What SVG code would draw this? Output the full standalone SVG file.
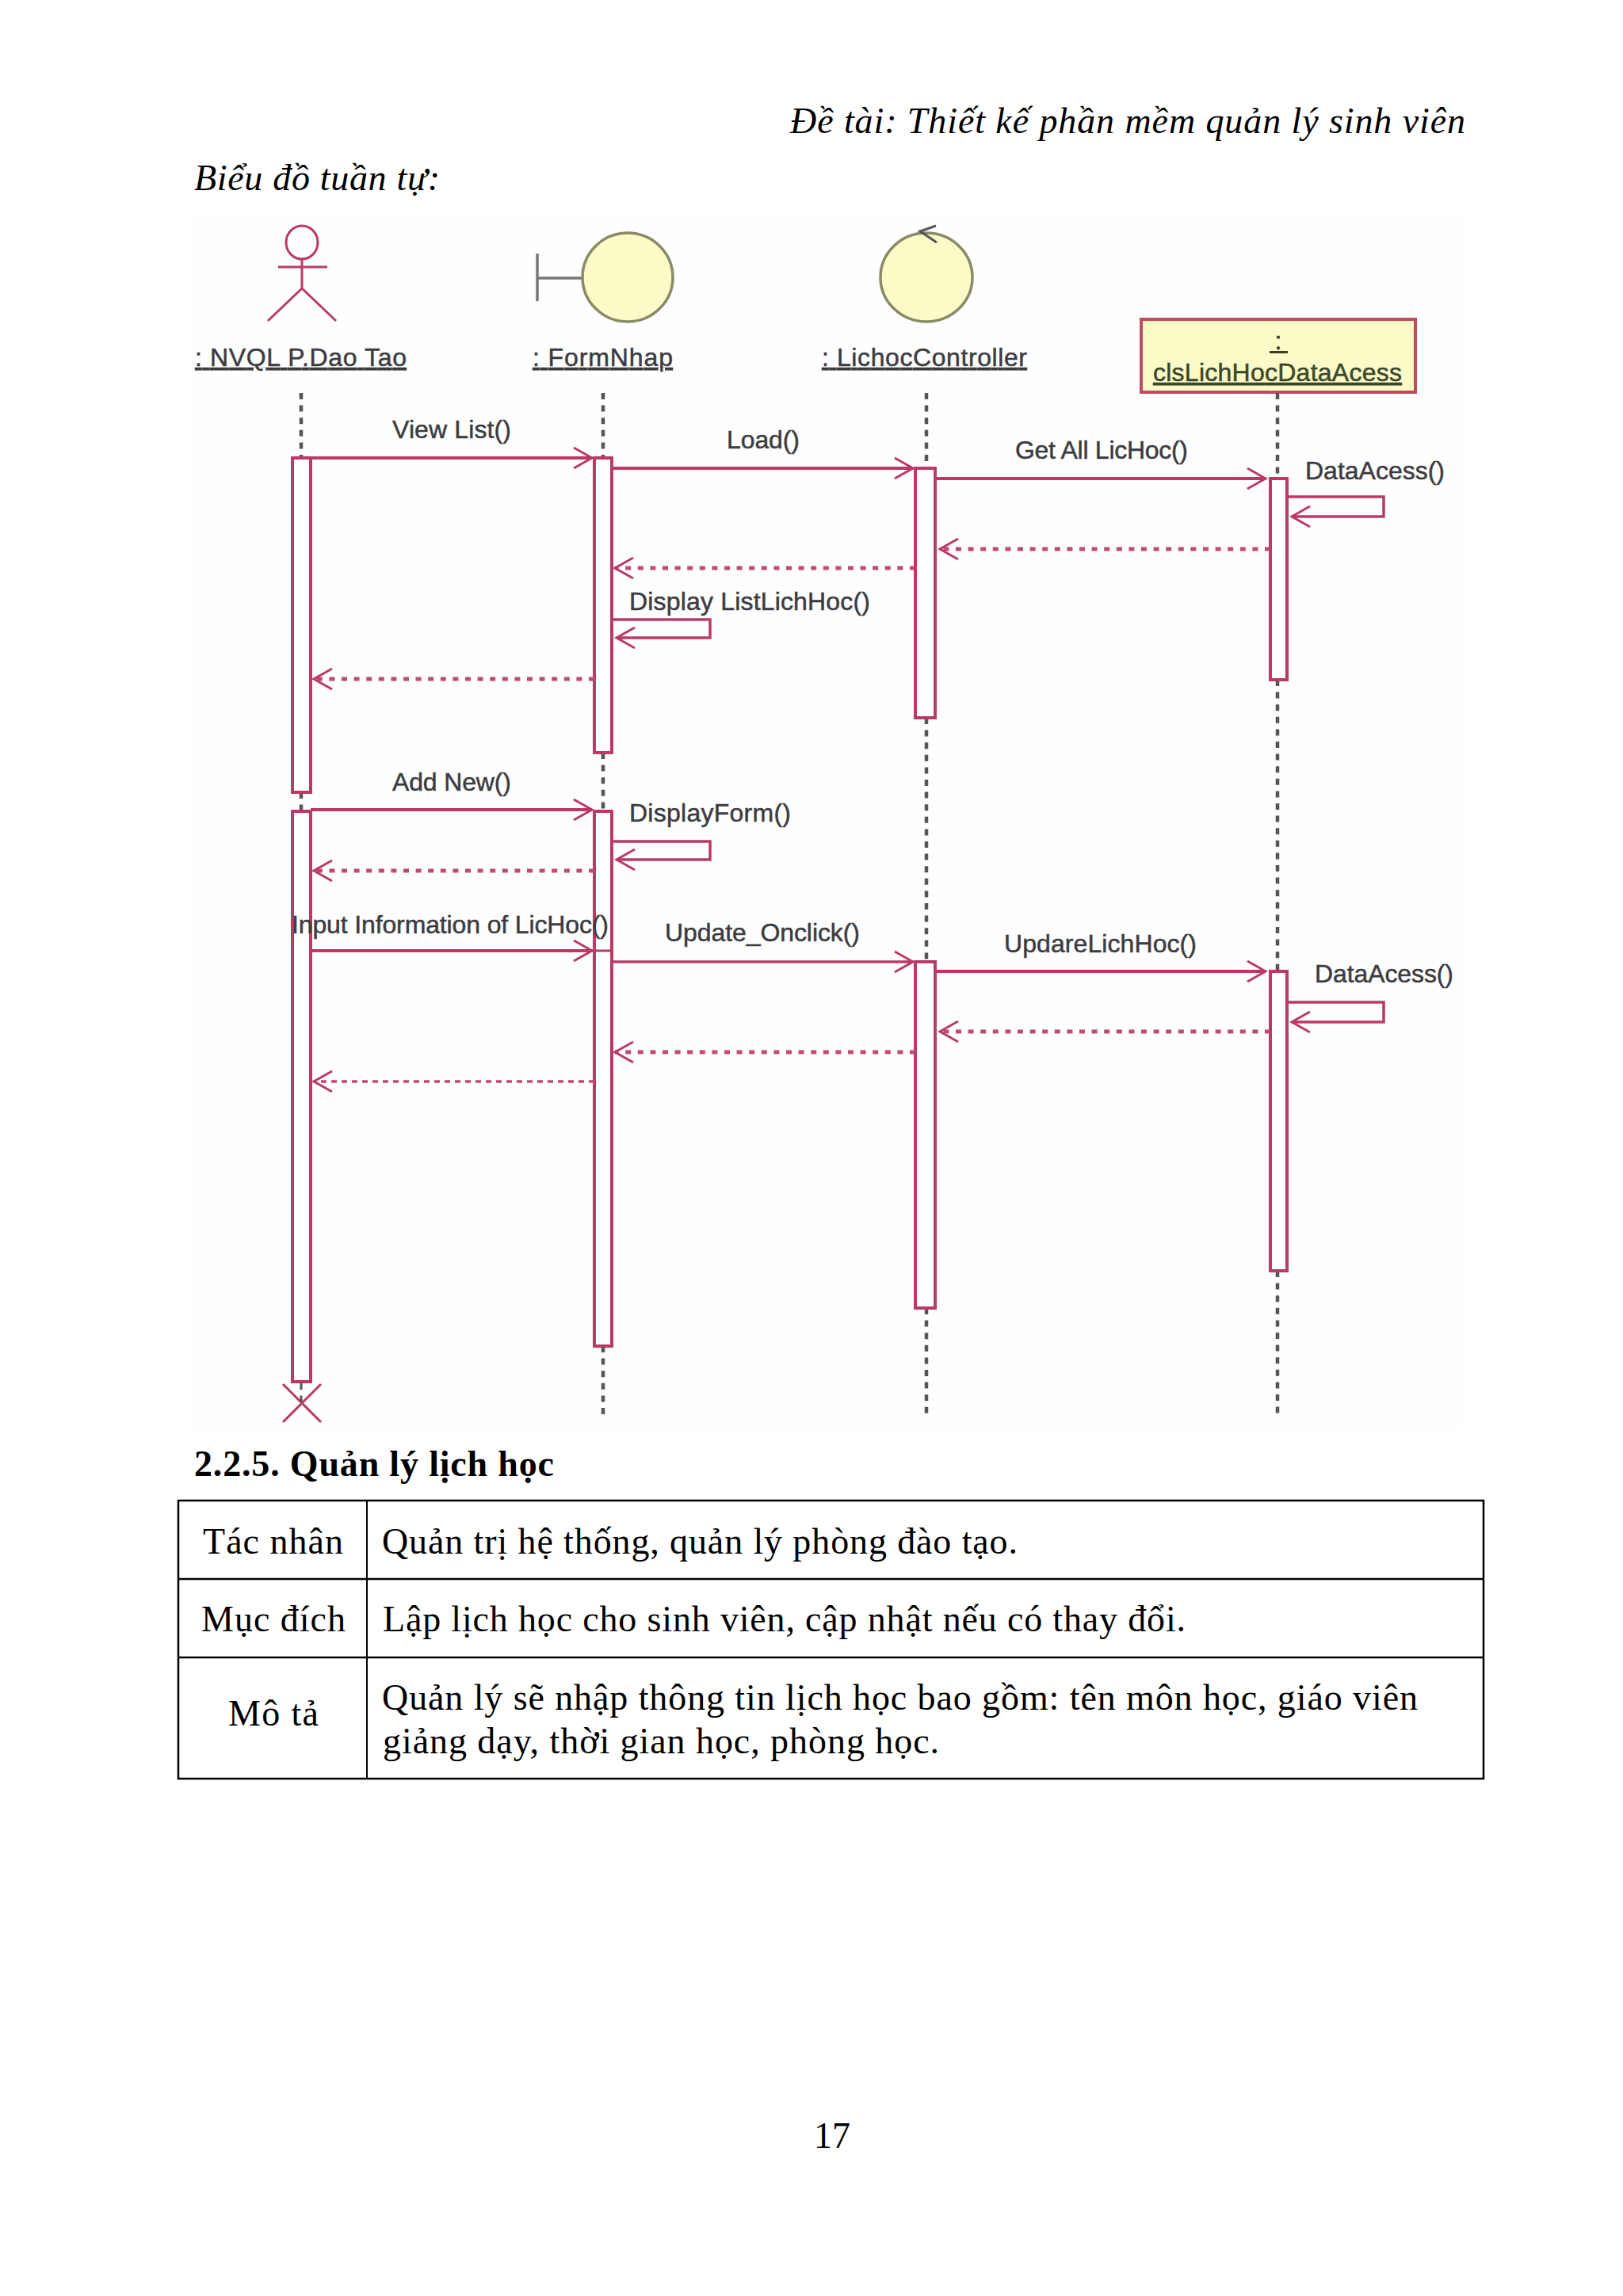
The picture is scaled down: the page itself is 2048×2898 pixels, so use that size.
<svg xmlns="http://www.w3.org/2000/svg" width="2048" height="2898" viewBox="0 0 2048 2898">
<style>
.pg{fill:#000;font-family:"Liberation Serif","Times New Roman",serif;font-size:46px}
.it{font-style:italic}
.bd{font-weight:bold}
.uml{fill:#3c3c40;stroke:#3c3c40;stroke-width:.5;font-family:"Liberation Sans",Arial,sans-serif;font-size:32px}
.u{text-decoration:underline}
.pink{fill:none;stroke:#b93a64;stroke-width:3}
.act{fill:#fff;stroke:#b93a64;stroke-width:4}
.life{fill:none;stroke:#555;stroke-width:4.500;stroke-dasharray:8 7.6}
.msg{fill:none;stroke:#b93a64;stroke-width:4;marker-end:url(#open)}
.ret{fill:none;stroke:#c04a72;stroke-width:5;stroke-dasharray:7 8.6;marker-end:url(#open)}
.cell{fill:none;stroke:#000;stroke-width:2.5}
.ball{fill:#fbfbc8;stroke:#8a8a66;stroke-width:3.5}
</style>
<defs>
<marker id="open" markerUnits="userSpaceOnUse" viewBox="-26 -15 29 30" refX="0" refY="0" markerWidth="29" markerHeight="30" orient="auto">
<path d="M-23,-13 L0,0 L-23,13" fill="none" stroke="#b93a64" stroke-width="3"/>
</marker>
</defs>
<rect width="2048" height="2898" fill="#fff"/>
<rect x="243" y="270" width="1600" height="1535" fill="#fefefe"/>
<text class="pg it" x="997" y="168" textLength="852">Đề tài: Thiết kế phần mềm quản lý sinh viên</text>
<text class="pg it" x="245" y="240" textLength="310">Biểu đồ tuần tự:</text>

<g id="actor-nvql">
<ellipse class="pink" cx="381" cy="306" rx="20" ry="21"/>
<path class="pink" d="M351,337H413M381,327V364M338,405L381,364L424,405"/>
<text class="uml u" x="246" y="462" textLength="267">: NVQL P.Dao Tao</text>
<path class="life" d="M380,496V578M380,1000V1022"/>
<rect class="act" x="369" y="578" width="23" height="422"/>
<rect class="act" x="369" y="1024" width="23" height="720"/>
<path class="pink" d="M357,1747L405,1795M405,1747L357,1795"/>
<path class="life" d="M380,1746V1770" style="stroke-width:3"/>
</g>

<g id="boundary-formnhap">
<path d="M678,320V380M678,351H735" fill="none" stroke="#77777a" stroke-width="3.5"/>
<ellipse class="ball" cx="792" cy="350" rx="57" ry="56"/>
<text class="uml u" x="672" y="462" textLength="177">: FormNhap</text>
<path class="life" d="M761,496V578M761,950V1022M761,1699V1791"/>
<rect class="act" x="750" y="578" width="22" height="372"/>
<rect class="act" x="750" y="1024" width="22" height="675"/>
</g>

<g id="control-lichoccontroller">
<ellipse class="ball" cx="1169" cy="350" rx="58" ry="56"/>
<path d="M1181,285L1161,292L1182,306" fill="none" stroke="#555" stroke-width="3"/>
<text class="uml u" x="1037" y="462" textLength="259">: LichocController</text>
<path class="life" d="M1169,496V591M1169,906V1214M1169,1651V1790"/>
<rect class="act" x="1155" y="591" width="25" height="315"/>
<rect class="act" x="1155" y="1214" width="25" height="437"/>
</g>

<g id="object-clslichhocdataacess">
<rect x="1440" y="403" width="346" height="92" fill="#fbfbc8" stroke="#c04a5f" stroke-width="4"/>
<text class="uml" x="1613" y="441" text-anchor="middle" style="fill:#3c3c20">:</text>
<line x1="1602" y1="444.500" x2="1625" y2="444.500" stroke="#3c3c20" stroke-width="3"/>
<text class="uml u" x="1455" y="481" textLength="314" style="fill:#3c4a20">clsLichHocDataAcess</text>
<path class="life" d="M1612,496V604M1612,858V1226M1612,1604V1790"/>
<rect class="act" x="1603" y="604" width="21" height="254"/>
<rect class="act" x="1603" y="1226" width="21" height="378"/>
</g>

<g id="connectors">
<line class="msg" x1="392" y1="578" x2="747" y2="578"/>
<line class="msg" x1="772" y1="591" x2="1152" y2="591"/>
<line class="msg" x1="1180" y1="604" x2="1597" y2="604"/>
<path class="msg" style="stroke-width:3.5" d="M1624,627H1746V652H1630"/>
<line class="ret" x1="1603" y1="693" x2="1186" y2="693"/>
<line class="ret" x1="1155" y1="717" x2="776" y2="717"/>
<path class="msg" style="stroke-width:3.5" d="M772,782H896V805H778"/>
<line class="ret" x1="750" y1="857" x2="396" y2="857"/>
<line class="msg" x1="392" y1="1022" x2="747" y2="1022"/>
<path class="msg" style="stroke-width:3.5" d="M772,1062H896V1085H778"/>
<line class="ret" x1="750" y1="1099" x2="396" y2="1099"/>
<line class="msg" x1="392" y1="1200" x2="747" y2="1200"/>
<line x1="747" y1="1200" x2="772" y2="1200" stroke="#b93a64" stroke-width="3"/>
<line class="msg" style="stroke-width:3.5" x1="772" y1="1214" x2="1152" y2="1214"/>
<line class="msg" x1="1180" y1="1226" x2="1597" y2="1226"/>
<path class="msg" style="stroke-width:3.5" d="M1624,1265H1746V1290H1630"/>
<line class="ret" x1="1603" y1="1302" x2="1186" y2="1302"/>
<line class="ret" x1="1155" y1="1328" x2="776" y2="1328"/>
<line class="ret" style="stroke-width:3.5;stroke-dasharray:7 6" x1="750" y1="1365" x2="396" y2="1365"/>
<g>
<text class="uml" x="495" y="553" textLength="150">View List()</text>
<text class="uml" x="917" y="566" textLength="92">Load()</text>
<text class="uml" x="1281" y="579" textLength="218">Get All LicHoc()</text>
<text class="uml" x="1647" y="605" textLength="176">DataAcess()</text>
<text class="uml" x="794" y="770" textLength="304">Display ListLichHoc()</text>
<text class="uml" x="495" y="998" textLength="150">Add New()</text>
<text class="uml" x="794" y="1037" textLength="204">DisplayForm()</text>
<text class="uml" x="368" y="1178" textLength="400">Input Information of LicHoc()</text>
<text class="uml" x="839" y="1188" textLength="246">Update_Onclick()</text>
<text class="uml" x="1267" y="1202" textLength="243">UpdareLichHoc()</text>
<text class="uml" x="1659" y="1240" textLength="175">DataAcess()</text>
</g>
</g>

<text class="pg bd" x="245" y="1863" textLength="454">2.2.5. Quản lý lịch học</text>
<g id="table">
<rect class="cell" x="225" y="1894" width="1647" height="351"/>
<path class="cell" d="M225,1993H1872M225,2092H1872"/>
<path class="cell" style="stroke-width:2" d="M463,1894V2245"/>
<text class="pg" x="256" y="1961" textLength="177">Tác nhân</text>
<text class="pg" x="482" y="1961" textLength="802">Quản trị hệ thống, quản lý phòng đào tạo.</text>
<text class="pg" x="254" y="2059" textLength="182">Mục đích</text>
<text class="pg" x="483" y="2059" textLength="1013">Lập lịch học cho sinh viên, cập nhật nếu có thay đổi.</text>
<text class="pg" x="288" y="2178" textLength="114">Mô tả</text>
<text class="pg" x="482" y="2158" textLength="1307">Quản lý sẽ nhập thông tin lịch học bao gồm: tên môn học, giáo viên</text>
<text class="pg" x="483" y="2213" textLength="702">giảng dạy, thời gian học, phòng học.</text>
</g>
<text class="pg" x="1027" y="2711" textLength="46">17</text>
</svg>
